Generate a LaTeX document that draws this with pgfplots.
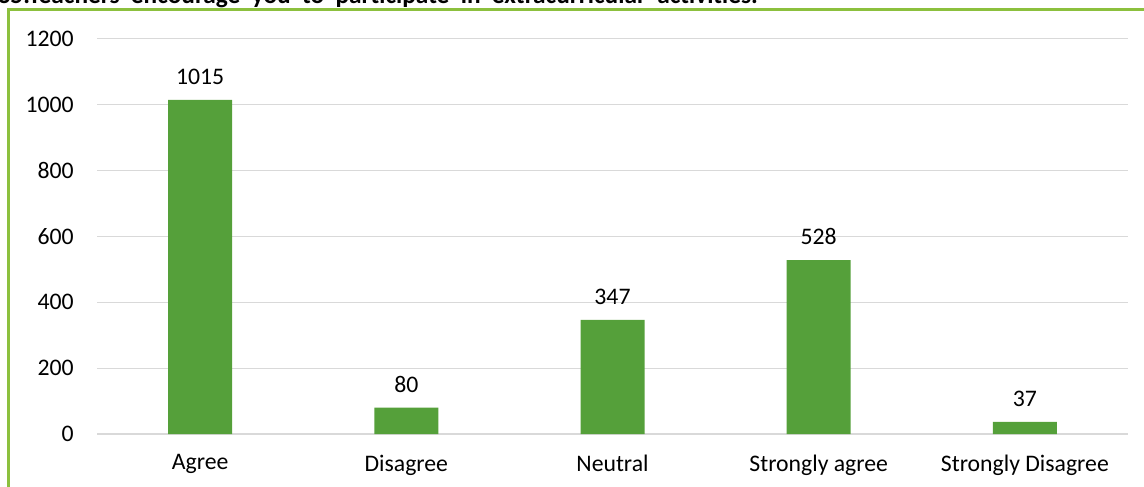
\documentclass[border=0pt]{standalone}
\usepackage{fontspec}
\setmainfont{Carlito}
\usepackage{pgfplots}
\pgfplotsset{compat=1.18}
\definecolor{barg}{RGB}{85,160,58}
\definecolor{frameg}{RGB}{140,192,62}
\definecolor{gridg}{RGB}{217,217,217}
\begin{document}
\begin{tikzpicture}
\useasboundingbox (0,0) rectangle (858pt,364.5pt);
\draw[frameg, line width=2.25pt] (6.4pt,-5pt) -- (6.4pt,357pt) -- (870pt,357pt);
\node[anchor=base west, inner sep=0pt, font=\fontsize{19pt}{22pt}\selectfont\bfseries] at (-2pt,361.5pt) {\spaceskip=8.5pt 35.Teachers encourage you to participate in extracurricular activities.};
\begin{axis}[
  at={(72.75pt,39pt)}, anchor=south west,
  scale only axis, width=773.25pt, height=296.25pt,
  xmin=-0.5, xmax=4.5, ymin=0, ymax=1200,
  ytick={0,200,...,1200},
  xtick=data,
  xticklabels={Agree,Disagree,Neutral,Strongly agree,Strongly Disagree},
  ymajorgrids, grid style={gridg, line width=0.75pt},
  axis lines=left,
  axis line style={draw=none},
  major tick length=0pt,
  ticklabel style={font=\fontsize{17.8pt}{20pt}\selectfont},
  /pgf/number format/assume math mode=true,
  /pgf/number format/1000 sep={},
  xticklabel style={yshift=-12pt},
  yticklabel style={xshift=-14pt},
  clip=false,
  nodes near coords,
  every node near coord/.append style={font=\fontsize{17.8pt}{20pt}\selectfont, yshift=8pt, black},
]
\draw[gridg, line width=1pt] (axis cs:-0.5,0) -- (axis cs:4.5,0);
\addplot[ybar, bar width=48pt, fill=barg, draw=none] coordinates {(0,1015) (1,80) (2,347) (3,528) (4,37)};
\end{axis}
\end{tikzpicture}
\end{document}
